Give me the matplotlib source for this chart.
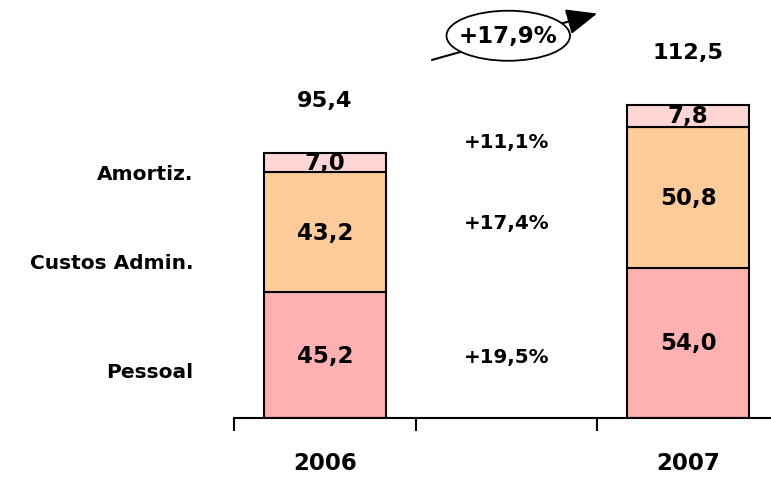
import matplotlib
matplotlib.use("Agg")
import matplotlib.pyplot as plt
from matplotlib.patches import Ellipse

# data
years = ["2006", "2007"]
pessoal = [45.2, 54.0]
custos = [43.2, 50.8]
amortiz = [7.0, 7.8]
totals = [95.4, 112.5]
growth = ["+19,5%", "+17,4%", "+11,1%"]
total_growth = "+17,9%"
row_labels = ["Pessoal", "Custos Admin.", "Amortiz."]

c_pes = "#FFB0B0"
c_cus = "#FFCC99"
c_amo = "#FFD6D6"

plt.rcParams["font.family"] = "DejaVu Sans"
plt.rcParams["font.weight"] = "bold"

fig = plt.figure(figsize=(7.71, 4.85), dpi=100)
ax = fig.add_axes([234 / 771, 66 / 485, 537 / 771, 419 / 485])

xpos = [0, 2]
w = 0.67
ax.bar(xpos, pessoal, w, color=c_pes, edgecolor="black", linewidth=1.5)
ax.bar(xpos, custos, w, bottom=pessoal, color=c_cus, edgecolor="black", linewidth=1.5)
bottom3 = [p + c for p, c in zip(pessoal, custos)]
ax.bar(xpos, amortiz, w, bottom=bottom3, color=c_amo, edgecolor="black", linewidth=1.5)

def fmt(v):
    return f"{v:.1f}".replace(".", ",")

for i, x in enumerate(xpos):
    ax.text(x, pessoal[i] / 2, fmt(pessoal[i]), ha="center", va="center",
            fontsize=16.5, fontweight="bold")
    ax.text(x, pessoal[i] + custos[i] / 2, fmt(custos[i]), ha="center", va="center",
            fontsize=16.5, fontweight="bold")
    ax.text(x, bottom3[i] + amortiz[i] / 2, fmt(amortiz[i]), ha="center", va="center",
            fontsize=16.5, fontweight="bold")
    ax.text(x, totals[i] + 19, fmt(totals[i]), ha="center", va="center",
            fontsize=16.2, fontweight="bold")

# growth labels in the middle
ys = [22.3, 70.5, 99.3]
for y, g in zip(ys, growth):
    ax.text(1, y, g, ha="center", va="center", fontsize=14.3, fontweight="bold")

# row labels on the left
ly = [16.9, 55.8, 88.1]
for y, lab in zip(ly, row_labels):
    ax.text(-0.723, y, lab, ha="right", va="center", fontsize=14.5,
            fontweight="bold", clip_on=False)

# arrow + ellipse for total growth
ax.annotate("", xy=(1.5, 145.5), xytext=(0.59, 128.8),
            arrowprops=dict(arrowstyle="-|>,head_length=1.9,head_width=0.8",
                            color="black", lw=1.5, shrinkA=0, shrinkB=0),
            annotation_clip=False)
ell = Ellipse((1.01, 137.5), 0.68, 18, facecolor="white", edgecolor="black",
              lw=1.3, zorder=5, clip_on=False)
ax.add_patch(ell)
ax.text(1.01, 137.5, total_growth, ha="center", va="center", fontsize=16.5,
        fontweight="bold", zorder=6)

ax.set_xlim(-0.5, 2.457)
ax.set_ylim(0, 419 / 2.78)
for s in ["top", "right", "left"]:
    ax.spines[s].set_visible(False)
ax.spines["bottom"].set_linewidth(1.5)
ax.set_yticks([])
ax.set_xticks([-0.5, 0.5, 1.5])
ax.set_xticklabels([])
ax.tick_params(axis="x", which="major", direction="out", length=9.5, width=1.5)
ax.set_xticks(xpos, minor=True)
ax.set_xticklabels(years, minor=True, fontsize=16.5, fontweight="bold")
ax.tick_params(axis="x", which="minor", length=0, pad=24)

fig.savefig("out.png", dpi=100)
